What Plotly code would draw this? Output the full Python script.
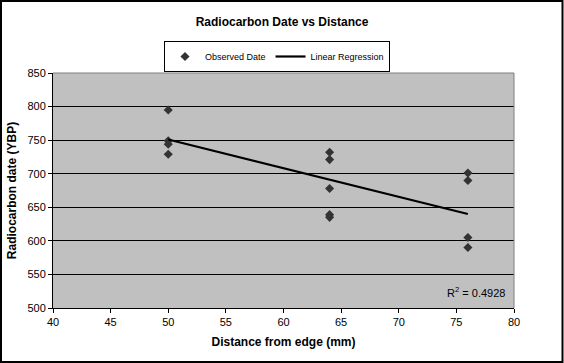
import plotly.graph_objects as go

distance_mm = [50, 50, 50, 50, 64, 64, 64, 64, 64, 76, 76, 76, 76]
date_ybp = [795, 749, 744, 729, 732, 721, 678, 639, 635, 701, 690, 605, 590]

# Linear regression line endpoints
reg_x = [50, 76]
reg_y = [751, 640]

r2_text = "R<sup>2</sup> = 0.4928"
x_ticks = [40, 45, 50, 55, 60, 65, 70, 75, 80]
y_ticks = [500, 550, 600, 650, 700, 750, 800, 850]

FONT = "Liberation Sans, Arial, sans-serif"

fig = go.Figure()
fig.add_trace(go.Scatter(
    x=distance_mm, y=date_ybp, mode="markers", name="Observed Date",
    marker=dict(symbol="diamond", size=7, color="#333333"),
))
fig.add_trace(go.Scatter(
    x=reg_x, y=reg_y, mode="lines", name="Linear Regression",
    line=dict(color="black", width=2.2),
))

L, R, T, B = 53, 50, 73, 55
W, H = 564, 363
pw, ph = W - L - R, H - T - B

def px_x(px):
    return (px - L) / pw

def px_y(py):
    return (H - B - py) / ph

fig.update_layout(
    width=W, height=H,
    margin=dict(l=L, r=R, t=T, b=B, pad=0),
    paper_bgcolor="white",
    plot_bgcolor="#C0C0C0",
    font=dict(family=FONT, size=11, color="black"),
    title=dict(text="<b>Radiocarbon Date vs Distance</b>", x=0.5, xanchor="center",
               y=1 - 22 / H, yanchor="middle", font=dict(size=12, family=FONT)),
    showlegend=True,
    legend=dict(orientation="h", x=px_x(277), xanchor="center", y=px_y(41), yanchor="top",
                bgcolor="white", bordercolor="black", borderwidth=1,
                font=dict(size=9, family=FONT, color="black"), itemwidth=30,
                tracegroupgap=0),
    xaxis=dict(range=[40, 80], tickvals=x_ticks, showgrid=False, zeroline=False,
               showline=True, linecolor="black", linewidth=1,
               ticks="outside", ticklen=4, tickcolor="black",
               title=dict(text="<b>Distance from edge (mm)</b>", standoff=10,
                          font=dict(size=12, family=FONT))),
    yaxis=dict(range=[500, 850], tickvals=y_ticks, showgrid=True, gridcolor="black",
               gridwidth=1, zeroline=False,
               showline=True, linecolor="black", linewidth=1,
               ticks="outside", ticklen=4, tickcolor="black",
               title=dict(text="<b>Radiocarbon date (YBP)</b>", standoff=8,
                          font=dict(size=12, family=FONT))),
    shapes=[
        dict(type="line", xref="paper", yref="paper", x0=0, x1=1, y0=1, y1=1,
             line=dict(color="#808080", width=1)),
        dict(type="line", xref="paper", yref="paper", x0=1, x1=1, y0=0, y1=1,
             line=dict(color="#808080", width=1)),
        dict(type="rect", xref="paper", yref="paper",
             x0=px_x(1), x1=px_x(562.5), y0=px_y(362), y1=px_y(1),
             line=dict(color="black", width=2), layer="above"),
    ],
    annotations=[
        dict(text=r2_text, xref="paper", yref="paper", x=px_x(507), y=px_y(292),
             xanchor="right", yanchor="middle", showarrow=False,
             font=dict(size=11, family=FONT)),
    ],
)

fig.write_html("out.html", config={"displayModeBar": False},
               post_script="document.body.style.margin='0';document.body.style.overflow='hidden';")
